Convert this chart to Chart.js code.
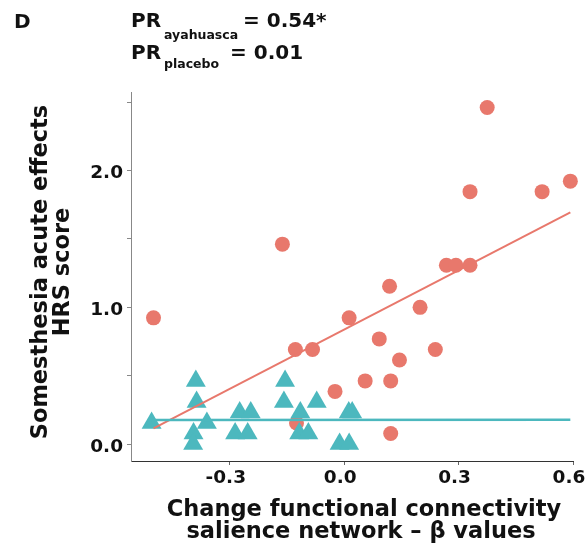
<!DOCTYPE html>
<html>
<head>
<meta charset="utf-8">
<script src="https://cdn.jsdelivr.net/npm/chart.js@4.4.1/dist/chart.umd.min.js"></script>
<style>
  body { margin: 0; background: #fff; }
</style>
</head>
<body>
<canvas id="chartContainer" width="587" height="552"></canvas>
<script>
// data
let ayahuascaX = [0.375, 0.330, 0.519, 0.593, -0.162, 0.268, 0.293, 0.330, -0.500, 0.119, 0.199,
  0.013, 0.092, -0.128, -0.083, 0.239, 0.145, 0.055, 0.122, -0.024, -0.125, 0.122];
let ayahuascaY = [2.462, 1.846, 1.846, 1.923, 1.462, 1.308, 1.308, 1.308, 0.923, 1.154, 1.0,
  0.923, 0.769, 0.692, 0.692, 0.692, 0.615, 0.462, 0.462, 0.385, 0.154, 0.077];

let placeboX = [-0.505, -0.389, -0.387, -0.360, -0.395, -0.396, -0.274, -0.245, -0.286, -0.253,
  -0.155, -0.158, -0.115, -0.118, -0.094, -0.072, 0.012, 0.021, -0.012, 0.013];
let placeboY = [0.154, 0.462, 0.308, 0.154, 0.077, 0.0, 0.231, 0.231, 0.077, 0.077,
  0.462, 0.308, 0.231, 0.077, 0.077, 0.308, 0.231, 0.231, 0.0, 0.0];

// fitted lines (end points)
let ayahuascaFitX = [-0.500, 0.593];
let ayahuascaFitY = [0.115, 1.695];
let placeboFitX = [-0.505, 0.593];
let placeboFitY = [0.176, 0.178];

let xTickValues = [-0.3, 0.0, 0.3, 0.6];
let yTickValues = [0, 0.5, 1, 1.5, 2, 2.5];
let yTickLabelled = [0, 1, 2];

let xTitle = ["Change functional connectivity", "salience network \u2013 \u03b2 values"];
let yTitle = ["Somesthesia acute effects", "HRS score"];

const RED = "#E8786C";
const TEAL = "#4CB8BE";
const FONT = "'DejaVu Sans', sans-serif";

function toPoints(xs, ys) {
  return xs.map((x, i) => ({ x: x, y: ys[i] }));
}

// panel letter, PR values and axis titles
let textPlugin = {
  id: "figureText",
  afterDraw(chart) {
    let ctx = chart.ctx;
    ctx.save();
    ctx.fillStyle = "#111";
    ctx.textBaseline = "alphabetic";
    ctx.textAlign = "left";

    ctx.font = "bold 20px " + FONT;
    ctx.fillText("D", 14, 28);

    ctx.fillText("PR", 131, 27);
    ctx.fillText("= 0.54*", 243, 27);
    ctx.fillText("PR", 131, 59);
    ctx.fillText("= 0.01", 230, 59);
    ctx.font = "bold 12.5px " + FONT;
    ctx.fillText("ayahuasca", 164, 39);
    ctx.fillText("placebo", 164, 68);

    ctx.font = "bold 22.5px " + FONT;
    ctx.textAlign = "center";
    ctx.fillText(xTitle[0], 364, 516);
    ctx.fillText(xTitle[1], 361, 538);

    ctx.translate(47, 272);
    ctx.rotate(-Math.PI / 2);
    ctx.fillText(yTitle[0], 0, 0);
    ctx.fillText(yTitle[1], 0, 21.5);
    ctx.restore();
  }
};

let chart = new Chart(document.getElementById("chartContainer"), {
  type: "scatter",
  data: {
    datasets: [
      {
        label: "placebo fit",
        data: toPoints(placeboFitX, placeboFitY),
        showLine: true,
        borderColor: TEAL,
        borderWidth: 2.5,
        pointRadius: 0,
        clip: false,
        order: 0
      },
      {
        label: "ayahuasca fit",
        data: toPoints(ayahuascaFitX, ayahuascaFitY),
        showLine: true,
        borderColor: RED,
        borderWidth: 2,
        pointRadius: 0,
        clip: false,
        order: 1
      },
      {
        label: "placebo",
        data: toPoints(placeboX, placeboY),
        pointStyle: "triangle",
        pointRadius: 11.5,
        backgroundColor: TEAL,
        borderWidth: 0,
        clip: false,
        order: 2
      },
      {
        label: "ayahuasca",
        data: toPoints(ayahuascaX, ayahuascaY),
        pointStyle: "circle",
        pointRadius: 7.5,
        backgroundColor: RED,
        borderWidth: 0,
        clip: false,
        order: 3
      }
    ]
  },
  options: {
    responsive: false,
    animation: false,
    events: [],
    layout: { padding: { top: 92, right: 14, left: 0, bottom: 0 } },
    plugins: {
      legend: { display: false },
      tooltip: { enabled: false }
    },
    scales: {
      x: {
        type: "linear",
        min: -0.559,
        max: 0.6,
        afterBuildTicks: (scale) => { scale.ticks = xTickValues.map(v => ({ value: v })); },
        afterFit: (scale) => { scale.height = 91; scale.paddingLeft = 0; scale.paddingRight = 0; },
        ticks: {
          callback: (v) => v.toFixed(1),
          font: { family: FONT, size: 18.5, weight: "bold", lineHeight: 1 },
          color: "#111",
          padding: 4,
          labelOffset: -4,
          maxRotation: 0,
          autoSkip: false
        },
        grid: { drawOnChartArea: false, drawTicks: true, tickLength: 4, tickColor: "#666" },
        border: { color: "#333", width: 1 }
      },
      y: {
        type: "linear",
        min: -0.124,
        max: 2.575,
        afterBuildTicks: (scale) => { scale.ticks = yTickValues.map(v => ({ value: v })); },
        afterFit: (scale) => { scale.width = 131; scale.paddingTop = 0; scale.paddingBottom = 0; },
        ticks: {
          callback: (v) => yTickLabelled.includes(v) ? v.toFixed(1) : "",
          font: { family: FONT, size: 18.5, weight: "bold", lineHeight: 1 },
          color: "#111",
          padding: 4,
          labelOffset: 3,
          autoSkip: false
        },
        grid: { drawOnChartArea: false, drawTicks: true, tickLength: 4, tickColor: "#888" },
        border: { color: "#888", width: 1 }
      }
    }
  },
  plugins: [textPlugin]
});
</script>
</body>
</html>
